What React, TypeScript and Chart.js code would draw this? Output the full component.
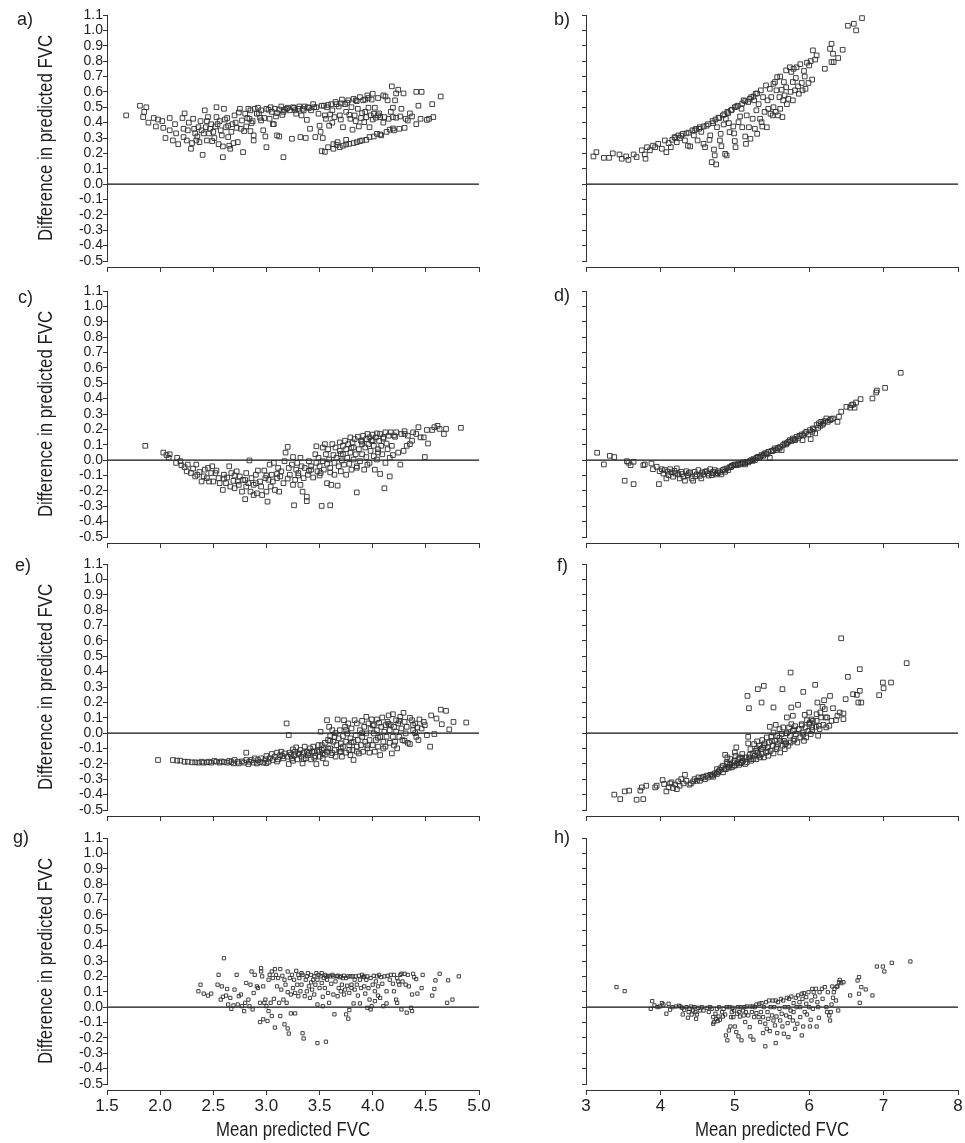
import React, { useEffect, useRef } from "react";
import { Chart, registerables } from "chart.js";

Chart.register(...registerables);

// ---------- text / ticks ----------
const X_TITLE = "Mean predicted FVC";
const Y_TITLE = "Difference in predicted FVC";
const PANEL_LABELS = ["a)", "b)", "c)", "d)", "e)", "f)", "g)", "h)"];
const Y_TICKS = [-0.5, -0.4, -0.3, -0.2, -0.1, 0.0, 0.1, 0.2, 0.3, 0.4, 0.5, 0.6, 0.7, 0.8, 0.9, 1.0, 1.1];
const LEFT_X_TICKS = [1.5, 2.0, 2.5, 3.0, 3.5, 4.0, 4.5, 5.0];
const RIGHT_X_TICKS = [3, 4, 5, 6, 7, 8];

// ---------- data ----------
const aPoints: [number, number][] = [
  [1.68,0.447],[1.81,0.51],[1.87,0.50],[1.84,0.436],[1.85,0.47],[1.89,0.40],[1.94,0.43],[1.98,0.42],[2.02,0.41],[1.96,0.375],[2.03,0.366],[2.05,0.30],[2.09,0.35],[2.09,0.43],[2.12,0.284],[2.14,0.39],[2.17,0.26],[2.15,0.33],[2.21,0.43],[2.22,0.36],[2.22,0.306],[2.23,0.46],[2.25,0.284],[2.26,0.35],[2.29,0.23],[2.30,0.267],[2.31,0.425],[2.33,0.33],[2.34,0.284],[2.36,0.37],[2.37,0.273],[2.38,0.41],[2.40,0.19],[2.41,0.33],[2.42,0.48],[2.43,0.37],[2.44,0.284],[2.45,0.436],[2.46,0.33],[2.48,0.39],[2.49,0.28],[2.50,0.34],[2.53,0.50],[2.53,0.436],[2.52,0.375],[2.55,0.26],[2.56,0.41],[2.58,0.317],[2.59,0.245],[2.59,0.175],[2.60,0.49],[2.62,0.37],[2.63,0.43],[2.64,0.306],[2.65,0.25],[2.66,0.23],[2.68,0.39],[2.69,0.267],[2.70,0.447],[2.72,0.366],[2.73,0.273],[2.74,0.466],[2.75,0.49],[2.77,0.414],[2.78,0.208],[2.79,0.345],[2.80,0.458],[2.81,0.375],[2.83,0.49],[2.84,0.425],[2.85,0.345],[2.86,0.397],[2.88,0.317],[2.88,0.284],[2.89,0.49],[2.91,0.458],[2.92,0.497],[2.94,0.432],[2.95,0.414],[2.97,0.35],[2.99,0.31],[3.00,0.24],[3.02,0.484],[3.03,0.425],[3.04,0.50],[3.05,0.47],[3.06,0.39],[3.07,0.39],[3.08,0.49],[3.10,0.462],[3.10,0.317],[3.12,0.31],[3.14,0.505],[3.16,0.47],[3.16,0.175],[3.17,0.484],[3.20,0.497],[3.22,0.48],[3.24,0.295],[3.25,0.50],[3.27,0.48],[3.28,0.458],[3.30,0.49],[3.31,0.505],[3.32,0.306],[3.33,0.447],[3.35,0.48],[3.36,0.505],[3.37,0.30],[3.38,0.418],[3.39,0.50],[3.41,0.36],[3.42,0.48],[3.44,0.52],[3.46,0.306],[3.47,0.50],[3.49,0.458],[3.50,0.38],[3.51,0.34],[3.52,0.215],[3.53,0.30],[3.54,0.51],[3.55,0.447],[3.56,0.425],[3.57,0.50],[3.58,0.24],[3.59,0.38],[3.60,0.453],[3.61,0.52],[3.62,0.48],[3.63,0.26],[3.64,0.436],[3.65,0.534],[3.67,0.273],[3.68,0.505],[3.69,0.24],[3.69,0.447],[3.71,0.55],[3.72,0.25],[3.72,0.37],[3.74,0.52],[3.75,0.288],[3.75,0.47],[3.77,0.545],[3.78,0.262],[3.79,0.425],[3.80,0.50],[3.81,0.354],[3.82,0.555],[3.82,0.267],[3.83,0.447],[3.84,0.545],[3.85,0.273],[3.86,0.49],[3.87,0.375],[3.88,0.566],[3.90,0.284],[3.90,0.462],[3.91,0.545],[3.92,0.403],[3.93,0.55],[3.94,0.436],[3.94,0.288],[3.95,0.577],[3.96,0.497],[3.97,0.37],[3.97,0.306],[3.98,0.447],[3.99,0.55],[4.00,0.588],[4.01,0.458],[4.01,0.31],[4.02,0.497],[4.03,0.432],[4.04,0.327],[4.05,0.447],[4.07,0.436],[4.08,0.317],[4.10,0.577],[4.11,0.436],[4.12,0.57],[4.13,0.34],[4.14,0.545],[4.15,0.425],[4.16,0.354],[4.18,0.636],[4.19,0.497],[4.19,0.436],[4.20,0.35],[4.21,0.545],[4.22,0.59],[4.22,0.432],[4.24,0.614],[4.25,0.36],[4.27,0.49],[4.29,0.59],[4.30,0.366],[4.31,0.425],[4.33,0.414],[4.37,0.44],[4.41,0.60],[4.41,0.39],[4.43,0.51],[4.45,0.425],[4.46,0.60],[4.51,0.418],[4.53,0.425],[4.56,0.52],[4.57,0.436],[4.64,0.57],
  [3.55,0.21],[3.63,0.23],[3.66,0.255],[3.75,0.258],[3.88,0.28],[4.07,0.323],[4.19,0.362],
  [2.85,0.48],[2.95,0.48],[3.00,0.49],[3.12,0.485],[3.19,0.49],[3.26,0.495],[3.34,0.49],[3.40,0.495],[3.45,0.50],[3.52,0.51],[3.58,0.515],[3.66,0.52],[3.70,0.525],[3.76,0.53],[3.85,0.54],[3.96,0.56],[4.05,0.56],
  [2.27,0.40],[2.32,0.36],[2.35,0.31],[2.39,0.35],[2.44,0.41],[2.47,0.36],[2.51,0.30],[2.54,0.39],[2.57,0.35],[2.61,0.42],[2.64,0.38],[2.67,0.34],[2.71,0.40],[2.76,0.36],[2.82,0.43],[2.87,0.41],[2.93,0.46],[2.98,0.43],[3.09,0.44],[3.15,0.45],
  [3.62,0.40],[3.70,0.42],[3.78,0.45],[3.84,0.41],[3.89,0.43],[3.93,0.47],[4.00,0.42],[4.06,0.46],[4.10,0.40],[4.17,0.47],[4.26,0.44],[4.35,0.46]
];

const bPoints: [number, number][] = [
  [3.10,0.18],[3.14,0.208],[3.24,0.171],[3.31,0.171],[3.36,0.20],[3.45,0.193],[3.48,0.165],[3.54,0.18],[3.57,0.158],[3.64,0.193],[3.68,0.176],[3.75,0.22],[3.79,0.193],[3.80,0.165],[3.82,0.24],[3.86,0.22],[3.90,0.25],[3.93,0.24],[3.97,0.262],[4.02,0.23],[4.06,0.284],[4.08,0.208],[4.11,0.267],[4.14,0.24],[4.16,0.288],[4.19,0.306],[4.22,0.273],[4.24,0.317],[4.26,0.30],[4.30,0.327],[4.33,0.284],[4.35,0.33],[4.37,0.25],[4.40,0.245],[4.43,0.35],[4.45,0.317],[4.48,0.36],[4.50,0.284],[4.53,0.37],[4.55,0.34],[4.58,0.262],[4.60,0.24],[4.62,0.38],[4.66,0.288],[4.67,0.317],[4.69,0.143],[4.71,0.397],[4.72,0.225],[4.73,0.187],[4.75,0.128],[4.76,0.37],[4.78,0.432],[4.80,0.284],[4.81,0.327],[4.82,0.247],[4.84,0.447],[4.85,0.388],[4.87,0.197],[4.88,0.425],[4.89,0.187],[4.91,0.462],[4.92,0.397],[4.93,0.338],[4.96,0.484],[4.98,0.375],[4.99,0.33],[5.00,0.28],[5.01,0.24],[5.02,0.505],[5.05,0.403],[5.07,0.44],[5.09,0.49],[5.10,0.37],[5.12,0.545],[5.14,0.31],[5.15,0.262],[5.16,0.447],[5.18,0.534],[5.19,0.37],[5.21,0.295],[5.22,0.566],[5.24,0.425],[5.26,0.545],[5.27,0.36],[5.28,0.588],[5.29,0.48],[5.30,0.327],[5.32,0.52],[5.34,0.425],[5.35,0.61],[5.36,0.403],[5.37,0.375],[5.38,0.566],[5.40,0.47],[5.42,0.642],[5.43,0.37],[5.44,0.545],[5.45,0.49],[5.47,0.62],[5.48,0.458],[5.49,0.566],[5.51,0.447],[5.52,0.653],[5.52,0.50],[5.54,0.664],[5.55,0.47],[5.56,0.61],[5.57,0.696],[5.58,0.447],[5.60,0.566],[5.61,0.49],[5.61,0.70],[5.63,0.614],[5.64,0.436],[5.65,0.545],[5.66,0.664],[5.67,0.577],[5.69,0.74],[5.69,0.63],[5.70,0.52],[5.72,0.555],[5.74,0.76],[5.75,0.60],[5.76,0.73],[5.78,0.545],[5.78,0.664],[5.79,0.75],[5.81,0.61],[5.82,0.69],[5.83,0.76],[5.85,0.636],[5.86,0.588],[5.88,0.78],[5.90,0.658],[5.91,0.61],[5.93,0.736],[5.94,0.70],[5.95,0.62],[5.97,0.79],[5.99,0.658],[6.00,0.772],[6.02,0.80],[6.04,0.68],[6.05,0.87],[6.08,0.81],[6.10,0.837],[6.21,0.75],[6.28,0.88],[6.30,0.913],[6.30,0.794],[6.32,0.848],[6.33,0.794],[6.39,0.82],[6.45,0.874],[6.52,1.03],[6.60,1.043],[6.63,1.0],[6.71,1.08],
  [4.20,0.30],[4.28,0.315],[4.38,0.335],[4.46,0.35],[4.52,0.36],[4.58,0.375],[4.64,0.39],[4.70,0.41],[4.74,0.42],[4.79,0.43],[4.86,0.455],[4.90,0.47],[4.95,0.48],[5.00,0.50],[5.04,0.51],[5.10,0.525],[5.14,0.54],[5.20,0.555],[5.25,0.57],[5.30,0.59]
];

const cPoints: [number, number][] = [
  [1.86,0.093],[2.03,0.049],[2.06,0.033],[2.09,0.038],[2.08,0.015],[2.16,0.015],[2.15,-0.018],[2.19,-0.007],[2.20,-0.033],[2.23,-0.046],[2.25,-0.073],[2.26,-0.029],[2.29,-0.084],[2.31,-0.055],[2.33,-0.106],[2.34,-0.029],[2.35,-0.095],[2.37,-0.077],[2.39,-0.139],[2.41,-0.106],[2.42,-0.062],[2.44,-0.117],[2.45,-0.051],[2.46,-0.139],[2.48,-0.084],[2.49,-0.04],[2.50,-0.139],[2.52,-0.084],[2.53,-0.068],[2.55,-0.117],[2.56,-0.15],[2.59,-0.194],[2.60,-0.095],[2.62,-0.15],[2.63,-0.113],[2.65,-0.04],[2.66,-0.172],[2.67,-0.084],[2.69,-0.135],[2.70,-0.183],[2.72,-0.073],[2.73,-0.139],[2.74,-0.161],[2.75,-0.106],[2.77,-0.205],[2.78,-0.128],[2.80,-0.254],[2.81,-0.172],[2.81,-0.084],[2.83,-0.15],[2.84,-0.002],[2.85,-0.205],[2.86,-0.117],[2.88,-0.227],[2.88,-0.161],[2.90,-0.095],[2.91,-0.216],[2.92,-0.068],[2.94,-0.139],[2.95,-0.172],[2.96,-0.227],[2.98,-0.068],[2.99,-0.117],[3.00,-0.205],[3.01,-0.27],[3.02,-0.128],[3.03,-0.029],[3.04,-0.172],[3.05,-0.095],[3.06,-0.139],[3.07,-0.018],[3.08,-0.194],[3.10,-0.117],[3.11,-0.051],[3.12,-0.205],[3.13,-0.106],[3.14,-0.073],[3.16,-0.15],[3.17,-0.007],[3.18,0.049],[3.20,0.086],[3.21,-0.051],[3.22,-0.095],[3.24,-0.029],[3.25,-0.161],[3.25,0.02],[3.26,-0.294],[3.27,-0.128],[3.28,-0.062],[3.29,-0.018],[3.30,-0.084],[3.32,0.015],[3.32,-0.161],[3.33,-0.04],[3.34,-0.205],[3.35,-0.117],[3.36,-0.051],[3.38,-0.238],[3.38,-0.267],[3.39,-0.095],[3.40,-0.007],[3.42,-0.062],[3.42,-0.04],[3.44,-0.113],[3.46,0.038],[3.47,0.09],[3.47,-0.018],[3.48,-0.073],[3.49,0.015],[3.50,-0.04],[3.51,-0.084],[3.52,-0.298],[3.53,0.082],[3.53,-0.007],[3.54,-0.062],[3.55,0.104],[3.56,0.038],[3.57,-0.024],[3.57,-0.15],[3.58,0.071],[3.59,0.004],[3.60,-0.294],[3.60,-0.051],[3.61,-0.161],[3.62,0.104],[3.63,0.033],[3.64,-0.018],[3.64,-0.095],[3.65,0.082],[3.66,0.015],[3.67,-0.166],[3.68,-0.04],[3.69,0.115],[3.69,0.06],[3.70,-0.073],[3.71,-0.002],[3.72,0.093],[3.72,0.038],[3.73,-0.029],[3.74,0.126],[3.75,0.071],[3.75,-0.095],[3.76,0.015],[3.77,0.104],[3.78,-0.024],[3.79,0.148],[3.79,0.049],[3.80,-0.062],[3.81,0.115],[3.82,0.004],[3.82,0.082],[3.83,0.137],[3.84,0.038],[3.85,-0.21],[3.85,-0.04],[3.86,0.152],[3.87,0.071],[3.88,-0.007],[3.89,0.126],[3.90,0.038],[3.90,0.104],[3.91,0.159],[3.92,-0.062],[3.93,0.082],[3.94,0.137],[3.94,0.02],[3.95,0.17],[3.96,0.104],[3.97,-0.018],[3.97,0.148],[3.98,0.06],[3.99,0.126],[4.00,0.166],[4.01,0.026],[4.01,0.093],[4.02,-0.062],[4.03,0.148],[4.04,0.004],[4.04,0.174],[4.05,0.071],[4.06,0.126],[4.07,-0.09],[4.07,0.17],[4.08,0.093],[4.09,0.038],[4.10,0.148],[4.11,-0.183],[4.12,0.181],[4.12,-0.018],[4.13,0.108],[4.14,0.071],[4.15,0.159],[4.16,-0.106],[4.16,0.015],[4.17,0.181],[4.18,0.093],[4.19,0.033],[4.21,0.152],[4.22,0.181],[4.24,0.049],[4.26,-0.029],[4.27,0.17],[4.29,0.06],[4.30,0.188],[4.32,0.093],[4.33,0.159],[4.35,0.104],[4.37,0.126],[4.38,0.181],[4.41,0.17],[4.43,0.214],[4.45,0.148],[4.48,0.148],[4.49,0.02],[4.51,0.196],[4.52,0.108],[4.56,0.196],[4.58,0.214],[4.61,0.223],[4.63,0.203],[4.67,0.17],[4.69,0.203],[4.83,0.21],
  [3.50,-0.10],[3.60,-0.08],[3.70,0.04],[3.80,0.08],[3.90,0.12],[4.00,0.13],[4.10,0.14],[4.20,0.16],[4.30,0.17],[3.85,-0.05],[3.95,-0.03],[4.05,0.05],[2.60,-0.12],[2.70,-0.10],[2.80,-0.13],[2.90,-0.15],[3.00,-0.10],[3.10,-0.09],[3.20,-0.12],[3.30,-0.10],[3.40,-0.07]
];

const dPoints: [number, number][] = [
  [3.15,0.048],[3.24,-0.028],[3.32,0.028],[3.38,0.02],[3.52,-0.134],[3.55,-0.007],[3.57,-0.017],[3.60,-0.033],[3.64,-0.011],[3.64,-0.156],[3.77,-0.033],[3.79,-0.028],[3.88,-0.022],[3.90,-0.059],[3.95,-0.043],[3.98,-0.156],[3.99,-0.072],[4.02,-0.059],[4.04,-0.087],[4.06,-0.065],[4.08,-0.119],[4.11,-0.098],[4.13,-0.059],[4.15,-0.08],[4.17,-0.108],[4.20,-0.087],[4.22,-0.054],[4.24,-0.093],[4.26,-0.119],[4.28,-0.076],[4.31,-0.108],[4.33,-0.134],[4.35,-0.072],[4.37,-0.098],[4.40,-0.08],[4.42,-0.119],[4.44,-0.134],[4.46,-0.076],[4.49,-0.093],[4.51,-0.065],[4.53,-0.102],[4.55,-0.119],[4.58,-0.093],[4.60,-0.076],[4.62,-0.072],[4.64,-0.087],[4.67,-0.059],[4.69,-0.098],[4.71,-0.076],[4.73,-0.065],[4.75,-0.093],[4.78,-0.072],[4.80,-0.08],[4.82,-0.093],[4.84,-0.065],[4.87,-0.076],[4.89,-0.054],[4.91,-0.065],[4.93,-0.046],[4.96,-0.037],[4.98,-0.033],[5.00,-0.028],[5.02,-0.033],[5.05,-0.022],[5.07,-0.028],[5.09,-0.022],[5.11,-0.015],[5.14,-0.028],[5.16,-0.011],[5.18,-0.015],[5.20,-0.007],[5.22,0.0],[5.25,0.007],[5.27,0.0],[5.29,0.015],[5.31,0.022],[5.34,0.022],[5.36,0.033],[5.38,0.028],[5.40,0.043],[5.43,0.037],[5.45,0.054],[5.47,0.015],[5.49,0.059],[5.52,0.065],[5.54,0.076],[5.56,0.065],[5.58,0.08],[5.61,0.087],[5.63,0.065],[5.65,0.098],[5.67,0.108],[5.69,0.102],[5.72,0.119],[5.74,0.13],[5.76,0.124],[5.78,0.141],[5.81,0.13],[5.83,0.152],[5.85,0.141],[5.87,0.158],[5.90,0.167],[5.91,0.13],[5.94,0.174],[5.96,0.184],[5.99,0.167],[6.01,0.195],[6.02,0.137],[6.04,0.184],[6.05,0.206],[6.08,0.174],[6.10,0.228],[6.12,0.21],[6.13,0.239],[6.15,0.223],[6.16,0.249],[6.19,0.239],[6.21,0.254],[6.23,0.271],[6.25,0.249],[6.28,0.26],[6.30,0.267],[6.32,0.271],[6.38,0.249],[6.40,0.282],[6.43,0.315],[6.50,0.347],[6.55,0.341],[6.57,0.358],[6.59,0.362],[6.61,0.341],[6.63,0.375],[6.69,0.397],[6.85,0.401],[6.90,0.44],[6.91,0.453],[7.02,0.47],[7.23,0.568],
  [4.10,-0.075],[4.19,-0.07],[4.29,-0.09],[4.38,-0.085],[4.47,-0.105],[4.56,-0.08],[4.65,-0.1],[4.70,-0.085],[4.77,-0.085],[4.86,-0.06],[4.95,-0.045],[5.04,-0.03],[5.13,-0.02],[5.24,-0.005],[5.33,0.015],[5.42,0.045],[5.51,0.06],[5.60,0.075],[5.70,0.11],[5.80,0.135],[5.92,0.16],[6.06,0.2],[6.18,0.23]
];

const ePoints: [number, number][] = [
  [1.98,-0.175],[2.12,-0.175],[2.16,-0.179],[2.19,-0.179],[2.23,-0.186],[2.26,-0.186],[2.30,-0.19],[2.33,-0.19],[2.36,-0.192],[2.39,-0.186],[2.41,-0.192],[2.44,-0.19],[2.46,-0.186],[2.48,-0.192],[2.51,-0.181],[2.53,-0.186],[2.56,-0.192],[2.58,-0.184],[2.60,-0.188],[2.63,-0.192],[2.65,-0.181],[2.67,-0.188],[2.69,-0.197],[2.70,-0.175],[2.73,-0.186],[2.74,-0.197],[2.77,-0.184],[2.79,-0.192],[2.81,-0.175],[2.81,-0.127],[2.83,-0.201],[2.84,-0.186],[2.86,-0.175],[2.88,-0.192],[2.89,-0.164],[2.91,-0.197],[2.92,-0.175],[2.94,-0.188],[2.95,-0.164],[2.97,-0.192],[2.99,-0.171],[3.00,-0.149],[3.02,-0.186],[3.03,-0.164],[3.05,-0.136],[3.06,-0.175],[3.08,-0.153],[3.10,-0.127],[3.11,-0.171],[3.13,-0.143],[3.14,-0.121],[3.16,-0.164],[3.17,-0.132],[3.19,0.063],[3.20,-0.153],[3.21,-0.013],[3.21,-0.201],[3.22,-0.127],[3.24,-0.164],[3.25,-0.106],[3.26,-0.143],[3.27,-0.121],[3.28,-0.093],[3.29,-0.171],[3.30,-0.132],[3.32,-0.11],[3.33,-0.153],[3.34,-0.197],[3.35,-0.127],[3.36,-0.088],[3.37,-0.164],[3.38,-0.121],[3.39,-0.143],[3.41,-0.099],[3.42,-0.171],[3.43,-0.121],[3.44,-0.088],[3.46,-0.149],[3.47,-0.201],[3.48,-0.114],[3.49,-0.078],[3.50,-0.153],[3.50,-0.121],[3.51,0.009],[3.52,-0.078],[3.53,-0.132],[3.53,-0.164],[3.54,-0.099],[3.55,-0.063],[3.56,-0.197],[3.57,-0.121],[3.57,0.084],[3.58,-0.045],[3.59,0.041],[3.60,-0.099],[3.60,-0.019],[3.61,-0.143],[3.62,0.019],[3.63,-0.056],[3.64,-0.11],[3.64,-0.024],[3.65,-0.153],[3.66,-0.078],[3.67,0.089],[3.68,-0.034],[3.69,-0.121],[3.69,0.019],[3.70,-0.067],[3.71,-0.153],[3.72,-0.019],[3.72,-0.088],[3.73,0.084],[3.74,0.041],[3.75,-0.056],[3.75,-0.127],[3.76,-0.002],[3.77,0.063],[3.78,-0.078],[3.79,-0.034],[3.79,-0.143],[3.80,0.03],[3.81,-0.11],[3.82,-0.056],[3.82,-0.175],[3.83,0.084],[3.84,-0.013],[3.85,-0.088],[3.85,0.063],[3.86,-0.045],[3.87,-0.132],[3.88,0.019],[3.89,-0.078],[3.90,0.08],[3.90,-0.024],[3.91,-0.121],[3.92,0.041],[3.93,-0.056],[3.94,0.106],[3.94,-0.002],[3.95,-0.099],[3.96,0.063],[3.97,-0.045],[3.97,-0.127],[3.98,0.03],[3.99,0.089],[4.00,-0.078],[4.01,-0.002],[4.01,0.052],[4.02,-0.121],[4.03,-0.045],[4.04,0.089],[4.04,0.019],[4.05,-0.088],[4.06,0.067],[4.07,-0.024],[4.07,-0.143],[4.08,0.041],[4.09,0.102],[4.10,-0.056],[4.11,0.009],[4.12,0.052],[4.12,-0.088],[4.13,-0.024],[4.14,0.073],[4.15,0.115],[4.16,0.019],[4.16,-0.063],[4.17,0.052],[4.18,-0.132],[4.19,-0.024],[4.19,0.123],[4.20,0.041],[4.21,-0.056],[4.22,0.084],[4.22,0.009],[4.23,-0.099],[4.24,0.063],[4.25,-0.024],[4.26,0.106],[4.27,0.03],[4.28,-0.045],[4.29,0.132],[4.30,0.073],[4.31,-0.002],[4.32,0.041],[4.33,-0.063],[4.35,-0.071],[4.37,0.084],[4.38,0.052],[4.38,0.019],[4.40,0.063],[4.41,-0.024],[4.42,0.037],[4.43,-0.045],[4.44,0.089],[4.46,0.03],[4.48,0.073],[4.49,0.052],[4.51,-0.013],[4.54,-0.088],[4.55,0.115],[4.58,-0.006],[4.60,0.095],[4.64,0.153],[4.65,0.058],[4.69,0.145],[4.72,0.024],[4.76,0.073],[4.88,0.069],
  [3.15,-0.15],[3.23,-0.14],[3.31,-0.135],[3.40,-0.13],[3.45,-0.12],[3.52,-0.11],[3.58,-0.1],[3.62,-0.13],[3.70,-0.12],[3.78,-0.11],
  [3.60,-0.05],[3.65,0.0],[3.70,-0.10],[3.75,0.02],[3.80,-0.06],[3.85,-0.12],[3.90,0.0],[3.95,-0.08],[4.00,0.05],[4.05,-0.03],[4.10,-0.10],[4.15,0.06],[4.20,-0.08],[4.25,0.08],[4.30,-0.05],[4.35,0.10],[4.40,0.0],[3.55,-0.14],[3.45,-0.16],[3.35,-0.17],[3.25,-0.18],[3.10,-0.185],[3.00,-0.195]
];

const fPoints: [number, number][] = [
  [3.38,-0.40],[3.46,-0.429],[3.52,-0.379],[3.58,-0.374],[3.68,-0.433],[3.73,-0.374],[3.77,-0.429],[3.75,-0.353],[3.81,-0.342],[3.93,-0.353],[3.95,-0.342],[4.03,-0.305],[4.05,-0.331],[4.08,-0.379],[4.11,-0.353],[4.13,-0.327],[4.15,-0.32],[4.17,-0.357],[4.20,-0.335],[4.22,-0.364],[4.24,-0.314],[4.26,-0.342],[4.28,-0.299],[4.31,-0.327],[4.33,-0.271],[4.35,-0.31],[4.39,-0.335],[4.41,-0.327],[4.44,-0.314],[4.46,-0.299],[4.49,-0.31],[4.51,-0.288],[4.53,-0.31],[4.55,-0.292],[4.58,-0.284],[4.60,-0.299],[4.62,-0.277],[4.64,-0.288],[4.67,-0.271],[4.69,-0.277],[4.71,-0.284],[4.73,-0.262],[4.76,-0.234],[4.76,-0.266],[4.78,-0.249],[4.80,-0.24],[4.82,-0.223],[4.84,-0.255],[4.84,-0.212],[4.87,-0.141],[4.88,-0.234],[4.89,-0.19],[4.90,-0.158],[4.91,-0.219],[4.93,-0.206],[4.94,-0.169],[4.96,-0.223],[4.98,-0.19],[4.99,-0.212],[5.00,-0.126],[5.01,-0.147],[5.02,-0.093],[5.03,-0.197],[5.05,-0.169],[5.06,-0.206],[5.07,-0.158],[5.09,-0.19],[5.10,-0.136],[5.11,-0.18],[5.14,-0.201],[5.15,-0.158],[5.16,-0.19],[5.17,0.242],[5.18,-0.067],[5.18,-0.024],[5.19,0.162],[5.19,-0.158],[5.21,-0.104],[5.22,-0.18],[5.24,-0.132],[5.25,-0.169],[5.26,-0.071],[5.27,-0.147],[5.28,-0.115],[5.29,-0.169],[5.30,-0.054],[5.31,0.286],[5.31,-0.126],[5.33,-0.082],[5.34,-0.158],[5.35,-0.104],[5.36,0.199],[5.36,-0.136],[5.37,-0.045],[5.38,-0.093],[5.39,0.307],[5.39,-0.158],[5.40,-0.067],[5.42,-0.126],[5.43,-0.028],[5.44,-0.093],[5.45,-0.147],[5.46,-0.061],[5.47,0.041],[5.48,-0.115],[5.49,-0.024],[5.51,-0.082],[5.52,0.167],[5.52,-0.132],[5.52,0.004],[5.54,-0.05],[5.55,0.054],[5.56,-0.104],[5.57,-0.017],[5.58,-0.071],[5.60,0.026],[5.61,-0.126],[5.61,-0.05],[5.63,-0.006],[5.64,0.286],[5.64,-0.082],[5.65,0.037],[5.66,-0.05],[5.67,-0.104],[5.69,-0.002],[5.69,-0.061],[5.70,0.102],[5.72,-0.082],[5.73,0.037],[5.74,-0.017],[5.75,0.394],[5.75,-0.061],[5.76,0.167],[5.76,0.058],[5.78,0.015],[5.78,0.113],[5.79,-0.05],[5.81,0.045],[5.82,-0.006],[5.84,-0.061],[5.85,0.184],[5.86,0.026],[5.88,-0.028],[5.90,0.058],[5.91,0.004],[5.92,0.268],[5.93,-0.05],[5.94,0.119],[5.95,0.037],[5.96,-0.028],[5.97,0.084],[5.99,0.015],[6.00,0.134],[6.01,0.069],[6.02,-0.006],[6.03,0.089],[6.04,0.037],[6.05,0.08],[6.08,0.314],[6.09,0.041],[6.10,0.123],[6.11,0.199],[6.12,-0.017],[6.13,0.048],[6.14,0.026],[6.15,0.134],[6.16,0.102],[6.18,0.171],[6.19,0.054],[6.20,0.214],[6.21,0.156],[6.22,0.102],[6.23,0.037],[6.24,0.102],[6.27,0.048],[6.28,0.242],[6.30,0.08],[6.32,0.162],[6.36,0.084],[6.38,0.113],[6.41,0.134],[6.43,0.617],[6.46,0.128],[6.46,0.091],[6.49,0.221],[6.52,0.366],[6.59,0.253],[6.64,0.249],[6.66,0.199],[6.68,0.275],[6.68,0.416],[6.70,0.199],[6.94,0.247],[6.99,0.329],[7.00,0.292],[7.10,0.329],[7.31,0.455],
  [4.70,-0.27],[4.78,-0.255],[4.86,-0.235],[4.92,-0.225],[5.00,-0.21],[5.08,-0.195],[5.20,-0.17],[5.32,-0.145],[5.44,-0.12],[5.56,-0.09],[5.68,-0.07],[5.80,-0.04],[5.92,-0.01],[6.04,0.02],
  [4.90,-0.20],[5.00,-0.18],[5.10,-0.16],[5.20,-0.14],[5.30,-0.10],[5.40,-0.08],[5.50,-0.05],[5.60,-0.03],[5.70,0.0],[5.80,0.02],[5.90,0.05],[6.00,0.06],[6.10,0.08]
];

const gPoints: [number, number][] = [
  [2.36,0.103],[2.38,0.146],[2.41,0.088],[2.45,0.075],[2.48,0.088],[2.54,0.146],[2.55,0.21],[2.58,0.135],[2.57,0.049],[2.59,0.067],[2.60,0.318],[2.62,0.075],[2.63,0.118],[2.64,0.017],[2.66,0.06],[2.67,-0.011],[2.69,0.011],[2.70,0.114],[2.72,0.21],[2.73,0.017],[2.74,0.071],[2.76,0.082],[2.77,0.006],[2.79,-0.026],[2.80,0.028],[2.81,0.157],[2.83,0.049],[2.84,0.006],[2.85,0.146],[2.86,0.232],[2.87,-0.015],[2.88,0.092],[2.89,0.21],[2.91,0.135],[2.92,0.124],[2.94,0.028],[2.95,0.232],[2.95,0.253],[2.96,0.2],[2.94,-0.097],[2.97,0.135],[2.98,0.028],[2.97,-0.079],[2.99,0.049],[3.00,0.006],[3.01,-0.09],[3.02,0.178],[3.02,-0.026],[3.03,0.21],[3.04,0.028],[3.05,-0.058],[3.05,0.232],[3.06,0.189],[3.07,0.054],[3.08,-0.133],[3.08,0.247],[3.09,0.21],[3.10,0.135],[3.11,0.189],[3.12,0.028],[3.13,-0.058],[3.13,0.247],[3.14,0.114],[3.15,0.204],[3.16,0.049],[3.17,0.178],[3.17,-0.112],[3.18,0.146],[3.19,0.028],[3.20,0.232],[3.20,-0.139],[3.20,0.097],[3.21,-0.172],[3.22,0.189],[3.23,-0.041],[3.23,0.082],[3.24,0.21],[3.25,0.124],[3.26,0.178],[3.27,-0.041],[3.27,0.092],[3.28,0.236],[3.29,0.146],[3.30,0.21],[3.30,0.071],[3.31,0.189],[3.32,0.103],[3.33,0.221],[3.33,0.146],[3.34,-0.17],[3.34,0.21],[3.35,-0.204],[3.36,0.071],[3.37,0.178],[3.38,0.2],[3.38,0.103],[3.39,0.221],[3.40,0.135],[3.41,0.06],[3.42,0.161],[3.42,0.21],[3.43,0.114],[3.44,0.178],[3.45,0.082],[3.45,0.2],[3.46,0.146],[3.47,0.221],[3.48,0.017],[3.48,-0.234],[3.48,0.178],[3.49,0.21],[3.50,0.124],[3.51,0.2],[3.52,0.157],[3.52,0.221],[3.53,0.006],[3.53,0.067],[3.54,0.189],[3.55,0.21],[3.55,0.124],[3.56,-0.225],[3.56,0.2],[3.57,0.178],[3.58,0.092],[3.58,0.204],[3.59,0.028],[3.60,0.2],[3.61,0.152],[3.62,0.21],[3.63,0.082],[3.63,0.2],[3.64,-0.047],[3.65,0.167],[3.66,0.2],[3.67,0.071],[3.67,0.204],[3.68,0.124],[3.69,0.195],[3.70,0.103],[3.70,0.2],[3.71,0.146],[3.72,0.189],[3.73,0.082],[3.73,0.204],[3.74,0.114],[3.75,-0.047],[3.75,0.189],[3.76,0.139],[3.77,-0.075],[3.77,0.2],[3.78,0.092],[3.78,-0.019],[3.79,0.2],[3.80,0.146],[3.80,0.124],[3.81,0.2],[3.82,0.024],[3.83,0.178],[3.83,0.114],[3.84,0.2],[3.85,0.146],[3.86,0.075],[3.87,0.204],[3.88,0.024],[3.88,0.178],[3.89,0.124],[3.90,0.21],[3.91,0.195],[3.92,0.135],[3.92,0.2],[3.93,0.088],[3.94,0.178],[3.95,-0.004],[3.95,0.2],[3.96,0.124],[3.97,0.049],[3.98,0.189],[3.98,-0.015],[3.99,0.006],[4.00,0.146],[4.01,0.204],[4.02,0.039],[4.02,0.103],[4.03,0.167],[4.04,0.2],[4.05,0.075],[4.05,0.135],[4.06,0.21],[4.07,0.06],[4.08,0.195],[4.09,0.152],[4.10,0.006],[4.11,0.2],[4.13,0.103],[4.13,0.024],[4.14,0.204],[4.16,0.178],[4.17,0.21],[4.19,0.152],[4.20,0.103],[4.20,0.21],[4.22,0.049],[4.23,0.189],[4.23,0.028],[4.24,0.167],[4.25,0.146],[4.26,0.21],[4.27,-0.015],[4.27,0.217],[4.28,0.167],[4.30,0.217],[4.31,0.146],[4.32,-0.036],[4.33,0.21],[4.34,0.135],[4.36,-0.004],[4.37,0.082],[4.38,0.217],[4.39,0.195],[4.41,0.182],[4.37,-0.026],[4.42,0.088],[4.46,0.124],[4.47,0.21],[4.56,0.075],[4.58,0.118],[4.59,0.174],[4.63,0.217],[4.70,0.028],[4.71,0.174],[4.75,0.049],[4.81,0.2]
];

const hPoints: [number, number][] = [
  [3.41,0.13],[3.52,0.104],[3.87,-0.011],[3.89,0.039],[3.92,0.011],[3.96,0.0],[3.99,0.004],[4.02,0.026],[4.04,0.017],[4.08,-0.043],[4.11,0.022],[4.13,-0.017],[4.16,0.0],[4.21,0.004],[4.25,0.009],[4.27,0.004],[4.29,-0.004],[4.30,-0.048],[4.32,-0.017],[4.35,0.0],[4.37,-0.069],[4.38,-0.032],[4.39,-0.011],[4.41,0.004],[4.42,-0.048],[4.44,-0.022],[4.46,0.0],[4.47,-0.032],[4.48,-0.076],[4.49,-0.048],[4.51,-0.004],[4.53,-0.022],[4.56,0.0],[4.58,-0.022],[4.63,-0.004],[4.65,-0.032],[4.67,0.0],[4.69,-0.011],[4.71,-0.108],[4.71,-0.065],[4.72,-0.097],[4.74,-0.043],[4.75,-0.076],[4.76,-0.011],[4.77,-0.091],[4.78,-0.061],[4.79,0.0],[4.80,-0.082],[4.83,-0.032],[4.84,-0.061],[4.85,-0.011],[4.87,-0.048],[4.88,-0.184],[4.89,0.0],[4.90,-0.216],[4.92,-0.152],[4.93,0.0],[4.94,-0.126],[4.95,-0.065],[4.96,-0.032],[4.97,-0.004],[4.98,-0.065],[4.99,-0.022],[5.00,-0.126],[5.02,-0.162],[5.03,-0.043],[5.04,0.0],[5.05,-0.19],[5.06,-0.032],[5.07,-0.061],[5.08,0.0],[5.09,-0.216],[5.11,-0.022],[5.12,-0.054],[5.13,0.0],[5.14,-0.097],[5.15,-0.032],[5.16,0.004],[5.18,-0.054],[5.20,-0.13],[5.21,0.004],[5.21,-0.19],[5.23,-0.032],[5.24,0.004],[5.25,-0.212],[5.26,-0.065],[5.27,0.0],[5.29,-0.039],[5.29,0.017],[5.32,-0.065],[5.33,0.022],[5.34,-0.097],[5.35,-0.032],[5.36,0.026],[5.38,-0.169],[5.38,-0.065],[5.39,0.0],[5.41,-0.108],[5.41,-0.255],[5.42,0.032],[5.43,-0.141],[5.44,-0.032],[5.45,-0.076],[5.46,0.043],[5.47,-0.156],[5.48,0.0],[5.50,-0.054],[5.51,0.043],[5.52,-0.087],[5.53,0.0],[5.54,-0.119],[5.55,-0.234],[5.55,0.043],[5.56,-0.061],[5.57,-0.169],[5.58,0.032],[5.60,-0.011],[5.61,-0.087],[5.62,0.054],[5.63,-0.043],[5.64,-0.126],[5.65,0.043],[5.66,-0.173],[5.67,0.0],[5.69,-0.054],[5.70,0.061],[5.71,-0.104],[5.72,-0.195],[5.72,0.0],[5.73,0.054],[5.74,-0.065],[5.75,-0.022],[5.76,0.069],[5.78,-0.087],[5.79,0.026],[5.79,-0.032],[5.81,-0.141],[5.82,0.061],[5.83,0.0],[5.84,-0.108],[5.85,0.076],[5.87,0.032],[5.88,-0.065],[5.88,0.0],[5.90,-0.184],[5.90,0.087],[5.91,0.054],[5.92,-0.126],[5.93,0.091],[5.94,-0.032],[5.96,0.022],[5.96,0.065],[5.97,-0.048],[5.99,0.097],[6.00,0.0],[6.01,-0.126],[6.02,-0.082],[6.03,0.043],[6.04,0.119],[6.05,-0.011],[6.06,0.097],[6.08,0.069],[6.09,0.119],[6.10,-0.126],[6.11,0.032],[6.12,0.0],[6.13,-0.069],[6.14,0.097],[6.17,0.119],[6.18,0.054],[6.21,0.13],[6.23,0.0],[6.24,-0.032],[6.25,0.097],[6.27,-0.054],[6.28,-0.087],[6.29,-0.032],[6.30,0.017],[6.31,0.134],[6.32,0.061],[6.33,0.097],[6.34,0.119],[6.36,0.043],[6.37,0.134],[6.38,0.134],[6.39,-0.022],[6.40,0.162],[6.41,0.177],[6.43,0.156],[6.46,0.162],[6.55,0.076],[6.65,0.173],[6.67,0.195],[6.68,0.028],[6.67,0.087],[6.70,0.13],[6.76,0.115],[6.85,0.076],[6.91,0.264],[6.99,0.264],[7.01,0.232],[7.11,0.288],[7.36,0.297]
];

// ---------- layout & style ----------
const Y_TOP = 1.1;
const Y_BOTTOM = -0.5;
const Y_MID = 0.3;
const PLOT_H = 246; // px between 1.1 and -0.5
const AXIS_GAP = 6; // px between -0.5 and the x axis line
const PAD_TOP = 12;
const ROW_TOPS = [15, 291, 564, 838];
const COLS = [
  { canvasLeft: 0, axisX: 107, right: 479, width: 492 },
  { canvasLeft: 480, axisX: 586, right: 958, width: 485 },
];
const LABEL_POS = [[17, 10], [554, 10], [18, 288], [554, 286], [15, 556], [557, 556], [13, 828], [554, 828]];
const SANS = "'Liberation Sans', Arial, Helvetica, sans-serif";
const AXIS_COLOR = "#333333";
const TEXT_COLOR = "#1e1e1e";
const MARKER_COLOR = "#2e2e2e";
const TITLE_SIZE = 20;
const TITLE_STRETCH = 0.84; // condensed look of the original typeface
const Y_TITLE_X = 46;
const X_TITLE_DY = 40;

type Panel = { label: string; points: [number, number][]; col: number; row: number; r: number };
const PANELS: Panel[] = [
  { label: PANEL_LABELS[0], points: aPoints, col: 0, row: 0, r: 3.3 },
  { label: PANEL_LABELS[1], points: bPoints, col: 1, row: 0, r: 3.3 },
  { label: PANEL_LABELS[2], points: cPoints, col: 0, row: 1, r: 3.3 },
  { label: PANEL_LABELS[3], points: dPoints, col: 1, row: 1, r: 3.3 },
  { label: PANEL_LABELS[4], points: ePoints, col: 0, row: 2, r: 3.3 },
  { label: PANEL_LABELS[5], points: fPoints, col: 1, row: 2, r: 3.3 },
  { label: PANEL_LABELS[6], points: gPoints, col: 0, row: 3, r: 2.3 },
  { label: PANEL_LABELS[7], points: hPoints, col: 1, row: 3, r: 2.3 },
];

function makeAxisDecor(showYTitle: boolean, showXTitle: boolean) {
  return {
    id: "axisDecor",
    afterDraw(chart: any) {
      const { ctx, chartArea, scales } = chart;
      const y = scales.y;
      // y axis line from 1.1 down to -0.5 (stops short of the x axis)
      const x = Math.round(chartArea.left) + 0.5;
      ctx.save();
      ctx.strokeStyle = AXIS_COLOR;
      ctx.lineWidth = 1;
      ctx.beginPath();
      ctx.moveTo(x, Math.round(y.getPixelForValue(Y_TOP)));
      ctx.lineTo(x, Math.round(y.getPixelForValue(Y_BOTTOM)) + 1);
      ctx.stroke();
      ctx.fillStyle = TEXT_COLOR;
      ctx.font = `${TITLE_SIZE}px ${SANS}`;
      ctx.textAlign = "center";
      ctx.textBaseline = "middle";
      if (showYTitle) {
        ctx.save();
        ctx.translate(Y_TITLE_X, y.getPixelForValue(Y_MID));
        ctx.rotate(-Math.PI / 2);
        ctx.scale(TITLE_STRETCH, 1);
        ctx.fillText(Y_TITLE, 0, 0);
        ctx.restore();
      }
      if (showXTitle) {
        ctx.save();
        ctx.translate((chartArea.left + chartArea.right) / 2, chartArea.bottom + X_TITLE_DY);
        ctx.scale(TITLE_STRETCH, 1);
        ctx.fillText(X_TITLE, 0, 0);
        ctx.restore();
      }
      ctx.restore();
    },
  };
}

function PanelChart({ p }: { p: Panel }) {
  const ref = useRef<HTMLCanvasElement>(null);
  const isBottom = p.row === 3;
  const isLeft = p.col === 0;
  const col = COLS[p.col];
  const xH = isBottom ? 52 : 8;
  const height = PAD_TOP + PLOT_H + AXIS_GAP + xH;
  const top = ROW_TOPS[p.row] - PAD_TOP;

  useEffect(() => {
    if (!ref.current) return;
    const xTicks = isLeft ? LEFT_X_TICKS : RIGHT_X_TICKS;
    const xMin = xTicks[0];
    const xMax = xTicks[xTicks.length - 1];
    const yMin = Y_BOTTOM - (AXIS_GAP * (Y_TOP - Y_BOTTOM)) / PLOT_H;
    const chart = new Chart(ref.current, {
      type: "scatter",
      data: {
        datasets: [
          {
            data: p.points.map(([x, y]) => ({ x, y })),
            pointStyle: "rect",
            pointRadius: p.r,
            pointBorderWidth: 0.9,
            pointBorderColor: MARKER_COLOR,
            pointBackgroundColor: "rgba(255,255,255,0)",
            clip: false,
          } as any,
          {
            data: [{ x: xMin, y: 0 }, { x: xMax, y: 0 }],
            showLine: true,
            borderColor: "#111111",
            borderWidth: 1.2,
            pointRadius: 0,
          } as any,
        ],
      },
      options: {
        responsive: false,
        animation: false,
        events: [],
        layout: { padding: { top: PAD_TOP, left: 0, bottom: 0, right: col.width - (col.right - col.canvasLeft) } },
        plugins: { legend: { display: false }, tooltip: { enabled: false } },
        scales: {
          x: {
            type: "linear",
            min: xMin,
            max: xMax,
            afterBuildTicks: (s: any) => { s.ticks = xTicks.map((v) => ({ value: v })); },
            afterFit: (s: any) => { s.height = xH; s.paddingLeft = 0; s.paddingRight = 0; },
            grid: { display: true, drawOnChartArea: false, drawTicks: true, tickLength: 5, color: AXIS_COLOR, lineWidth: 1 },
            border: { display: true, color: AXIS_COLOR, width: 1 },
            ticks: {
              display: isBottom,
              autoSkip: false,
              maxRotation: 0,
              padding: 1,
              color: TEXT_COLOR,
              font: { family: SANS, size: 17 },
              callback: (v: any) => (isLeft ? Number(v).toFixed(1) : String(Number(v))),
            },
            title: { display: false },
          },
          y: {
            type: "linear",
            min: yMin,
            max: Y_TOP,
            afterBuildTicks: (s: any) => { s.ticks = Y_TICKS.map((v) => ({ value: v })); },
            afterFit: (s: any) => { s.width = col.axisX - col.canvasLeft; s.paddingTop = 0; s.paddingBottom = 0; },
            grid: { display: true, drawOnChartArea: false, drawTicks: true, tickLength: 4, color: AXIS_COLOR, lineWidth: 1 },
            border: { display: false },
            ticks: {
              display: isLeft,
              autoSkip: false,
              padding: 0,
              color: TEXT_COLOR,
              font: { family: SANS, size: 14, lineHeight: 1.0 },
              callback: (v: any) => Number(v).toFixed(1),
            },
            title: { display: false },
          },
        },
      } as any,
      plugins: [makeAxisDecor(isLeft, isBottom)],
    });
    return () => chart.destroy();
  }, []);

  return (
    <canvas
      ref={ref}
      width={col.width}
      height={height}
      style={{ position: "absolute", left: col.canvasLeft, top, width: col.width, height }}
    />
  );
}

export default function App() {
  return (
    <div style={{ position: "absolute", left: 0, top: 0, width: 965, height: 1143, background: "#ffffff", overflow: "hidden" }}>
      {PANELS.map((p, i) => (
        <PanelChart key={i} p={p} />
      ))}
      {PANELS.map((p, i) => (
        <div
          key={"l" + i}
          style={{
            position: "absolute",
            left: LABEL_POS[i][0],
            top: LABEL_POS[i][1],
            fontFamily: SANS,
            fontSize: 18,
            lineHeight: "18px",
            color: TEXT_COLOR,
          }}
        >
          {p.label}
        </div>
      ))}
    </div>
  );
}
